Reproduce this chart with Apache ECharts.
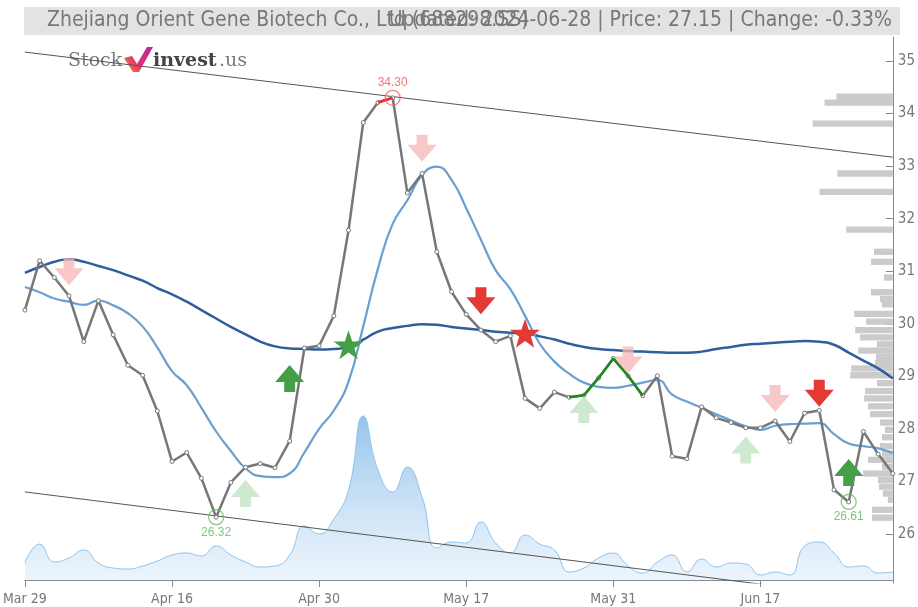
<!DOCTYPE html>
<html><head><meta charset="utf-8">
<script src="https://cdn.jsdelivr.net/npm/echarts@6/dist/echarts.min.js"></script>
<style>html,body{margin:0;padding:0;background:#fff}#c{width:918px;height:607px}</style>
</head><body><div id="c"></div>
<script>
// ---- data ----
const dates = ['2024-03-29','2024-04-01','2024-04-02','2024-04-03','2024-04-08','2024-04-09','2024-04-10','2024-04-11','2024-04-12','2024-04-15',
'2024-04-16','2024-04-17','2024-04-18','2024-04-19','2024-04-22','2024-04-23','2024-04-24','2024-04-25','2024-04-26','2024-04-29',
'2024-04-30','2024-05-06','2024-05-07','2024-05-08','2024-05-09','2024-05-10','2024-05-13','2024-05-14','2024-05-15','2024-05-16',
'2024-05-17','2024-05-20','2024-05-21','2024-05-22','2024-05-23','2024-05-24','2024-05-27','2024-05-28','2024-05-29','2024-05-30',
'2024-05-31','2024-06-03','2024-06-04','2024-06-05','2024-06-06','2024-06-07','2024-06-11','2024-06-12','2024-06-13','2024-06-14',
'2024-06-17','2024-06-18','2024-06-19','2024-06-20','2024-06-21','2024-06-24','2024-06-25','2024-06-26','2024-06-27','2024-06-28'];
const closePrice = [30.26,31.20,30.88,30.53,29.66,30.44,29.79,29.21,29.02,28.34,
27.38,27.55,27.06,26.32,26.98,27.27,27.34,27.26,27.77,29.54,
29.58,30.15,31.78,33.83,34.21,34.30,32.49,32.86,31.37,30.61,
30.18,29.88,29.66,29.77,28.58,28.39,28.70,28.60,28.64,28.97,
29.34,29.01,28.63,29.01,27.48,27.43,28.42,28.21,28.12,28.02,
28.02,28.15,27.76,28.30,28.35,26.84,26.61,27.95,27.52,27.15];
const maShort = [30.70,30.60,30.48,30.42,30.36,30.44,30.35,30.20,29.95,29.55,
29.10,28.83,28.40,27.95,27.58,27.25,27.10,27.08,27.15,27.55,
28.00,28.35,28.90,29.95,31.05,31.90,32.35,32.83,32.99,32.74,
32.20,31.60,31.02,30.66,30.15,29.62,29.28,29.05,28.88,28.80,
28.78,28.82,28.88,28.93,28.65,28.52,28.40,28.28,28.16,28.05,
27.98,28.06,28.09,28.10,28.11,27.90,27.72,27.67,27.63,27.54];
const maLong = [30.97,31.08,31.18,31.23,31.18,31.10,31.02,30.92,30.82,30.68,
30.56,30.42,30.26,30.10,29.94,29.80,29.66,29.57,29.53,29.52,
29.51,29.52,29.56,29.70,29.85,29.92,29.96,29.99,29.98,29.94,
29.91,29.88,29.85,29.83,29.82,29.76,29.70,29.62,29.56,29.52,
29.50,29.48,29.47,29.46,29.45,29.45,29.47,29.52,29.56,29.60,
29.62,29.64,29.66,29.67,29.66,29.60,29.45,29.30,29.15,28.96];
const volume = [17,36,18,22,30,17,12,11,14,19,
25,27,24,34,25,18,13,14,25,54,
46,61,90,164,110,88,113,83,32,38,
37,58,37,27,45,36,30,8,12,22,
27,14,7,18,25,8,21,13,17,16,
5,8,5,34,38,27,13,14,7,8];
// volume profile (price level, relative width)
const profilePrice = [34.32,34.21,33.81,32.86,32.51,31.79,31.37,31.18,30.88,30.60,30.47,30.37,30.19,30.04,29.88,29.74,29.61,29.49,29.37,29.26,29.15,29.02,28.87,28.72,28.58,28.43,28.28,28.12,27.98,27.84,27.67,27.53,27.41,27.28,27.15,27.03,26.90,26.77,26.65,26.46,26.31];
const profileWidth = [57,69,81,56,74,47,19,22,9,22,13,11,39,27,38,33,16,35,17,18,42,43,16,28,29,25,23,13,8,11,13,11,25,11,30,15,14,10,5,21,21];
// trend channel endpoints [index, price]
const upperTrend = [[0,35.17],[59,33.17]];
const lowerTrend = [[0,26.80],[59,24.73]];
// signals [index, price]
const weakSell = [[3,30.99],[27,33.34],[41,29.31],[51,28.58]];
const strongSell = [[31,30.44],[54,28.68]];
const weakBuy = [[15,26.77],[38,28.37],[49,27.60]];
const strongBuy = [[18,28.96],[56,27.17]];
const buyStar = [[22,29.60]];
const sellStar = [[34,29.82]];
const highMark = [[25,34.30]];
const lowMarks = [[13,26.32],[56,26.61]];
const greenSegment = [37,42];
const redSegment = [24,25];
const yTicks = [26,27,28,29,30,31,32,33,34,35];
const xLabelEvery = 10;
const titleText = 'Zhejiang Orient Gene Biotech Co., Ltd (688298.SS)';
const infoText = 'Updated: 2024-06-28 | Price: 27.15 | Change: -0.33%';

// ---- chart ----
const MON = ['Jan','Feb','Mar','Apr','May','Jun','Jul','Aug','Sep','Oct','Nov','Dec'];
const fmtDate = d => { const p = d.split('-'); return MON[+p[1]-1] + ' ' + (+p[2]); };
const NARROW = "'Liberation Sans Narrow','DejaVu Sans Condensed','Roboto Condensed',sans-serif";
const upPath = 'path://M14.5,0 L29,17 L20,17 L20,27 L9,27 L9,17 L0,17 Z';
const downPath = 'path://M9,0 L20,0 L20,10 L29,10 L14.5,27 L0,10 L9,10 Z';
const starPath = 'path://M50,0 L61.8,35.3 L98,35.3 L68.8,57 L79.4,92 L50,70.5 L20.6,92 L31.2,57 L2,35.3 L38.2,35.3 Z';

function segment(range) {
  return closePrice.map((v, i) => (i >= range[0] && i <= range[1]) ? v : null);
}
function trend(pts) {
  const arr = closePrice.map(() => null);
  pts.forEach(p => { arr[p[0]] = p[1]; });
  return arr;
}
function marker(data, path, color, size, z) {
  return { type: 'scatter', data: data, symbol: path, symbolSize: size, symbolKeepAspect: false,
    itemStyle: { color: color, opacity: 1 }, z: z, silent: true, animation: false };
}

const chart = echarts.init(document.getElementById('c'), null, { renderer: 'canvas' });
chart.setOption({
  animation: false,
  backgroundColor: '#fff',
  grid: { left: 22, right: 20, top: 37, bottom: 24, containLabel: false },
  xAxis: [{
    type: 'category', data: dates, boundaryGap: false,
    axisLine: { lineStyle: { color: '#888', width: 1 } },
    axisTick: { interval: (i) => i % xLabelEvery === 0, length: 7, lineStyle: { color: '#888' } },
    axisLabel: { interval: (i) => i % xLabelEvery === 0, formatter: fmtDate, color: '#777', fontSize: 14, fontFamily: NARROW, margin: 9 },
    splitLine: { show: false }
  }, {
    type: 'value', position: 'top', show: false, min: 0, max: 876, inverse: true
  }],
  yAxis: [{
    type: 'value', position: 'right', min: 25.067, max: 35.457, scale: true,
    axisLine: { show: true, lineStyle: { color: '#888' } },
    axisTick: { show: true, inside: true, length: 7, customValues: yTicks, lineStyle: { color: '#888' } },
    axisLabel: { customValues: yTicks, color: '#777', fontSize: 15, fontFamily: NARROW, margin: 5 },
    splitLine: { show: false }
  }, {
    type: 'value', show: false, min: -3, max: 543
  }],
  graphic: [
    { type: 'rect', shape: { x: 24, y: 7, width: 876, height: 28 }, style: { fill: '#e3e3e3' }, z: 0 },
    { type: 'text', x: 47, y: 21, style: { text: titleText, fill: '#777', font: '21px ' + NARROW, textVerticalAlign: 'middle', textAlign: 'left' }, z: 1 },
    { type: 'text', x: 892, y: 21, style: { text: infoText, fill: '#777', font: '21px ' + NARROW, textVerticalAlign: 'middle', textAlign: 'right' }, z: 1 },
    { type: 'text', x: 68, y: 61, style: { text: 'Stock', fill: '#7a7a7a', font: '19px "DejaVu Serif", serif', textVerticalAlign: 'middle' }, z: 1 },
    { type: 'polygon', shape: { points: [[124,58],[132,56],[137,64],[147,47],[153,47],[139,72],[133,72]] },
      style: { fill: new echarts.graphic.LinearGradient(0, 1, 1, 0, [{ offset: 0, color: '#f28c1e' }, { offset: 0.45, color: '#e0307a' }, { offset: 1, color: '#b0289a' }]) }, z: 1 },
    { type: 'text', x: 153, y: 61, style: { text: 'invest', fill: '#444', font: 'bold 19px "DejaVu Serif", serif', textVerticalAlign: 'middle' }, z: 1 },
    { type: 'text', x: 219, y: 61, style: { text: '.us', fill: '#7a7a7a', font: '19px "DejaVu Serif", serif', textVerticalAlign: 'middle' }, z: 1 }
  ],
  series: [
    { // volume area
      type: 'line', data: volume, yAxisIndex: 1, smooth: 0.5, symbol: 'none', z: 1,
      lineStyle: { color: '#8fc3ec', width: 1 },
      areaStyle: { color: new echarts.graphic.LinearGradient(0, 0, 0, 1, [{ offset: 0, color: 'rgba(95,165,228,0.95)' }, { offset: 1, color: 'rgba(210,230,248,0.6)' }]) }
    },
    { // volume profile
      type: 'custom', xAxisIndex: 1, yAxisIndex: 0, z: 2, silent: true,
      data: profilePrice.map((p, i) => [profileWidth[i], p]),
      encode: { x: 0, y: 1 },
      renderItem: function (params, api) {
        const w = api.value(0), p = api.value(1);
        const a = api.coord([0, p + 0.06]);
        const b = api.coord([w, p - 0.06]);
        return { type: 'rect', shape: { x: Math.min(a[0], b[0]), y: a[1], width: Math.abs(a[0] - b[0]), height: b[1] - a[1] }, style: { fill: '#cbcbcb' } };
      }
    },
    { type: 'line', data: trend(upperTrend), connectNulls: true, symbol: 'none', z: 3, lineStyle: { color: '#555', width: 1 } },
    { type: 'line', data: trend(lowerTrend), connectNulls: true, symbol: 'none', z: 3, lineStyle: { color: '#555', width: 1 } },
    { type: 'line', data: maLong, smooth: true, symbol: 'none', z: 4, lineStyle: { color: '#2e5f9c', width: 2.5 } },
    { type: 'line', data: maShort, smooth: true, symbol: 'none', z: 4, lineStyle: { color: '#6a9fd2', width: 2.2 } },
    { type: 'line', data: closePrice, symbol: 'circle', symbolSize: 4, z: 5,
      itemStyle: { color: '#fff', borderColor: '#777', borderWidth: 1 },
      lineStyle: { color: '#777', width: 2.5 } },
    { type: 'line', data: segment(greenSegment), symbol: 'none', z: 6, lineStyle: { color: '#1c8a1c', width: 2.5 } },
    { type: 'line', data: segment(redSegment), symbol: 'none', z: 6, lineStyle: { color: '#f03030', width: 2.5 } },
    marker(weakSell, downPath, 'rgba(245,180,180,0.75)', [29, 27], 7),
    marker(strongSell, downPath, '#e53935', [29, 27], 8),
    marker(weakBuy, upPath, 'rgba(190,225,190,0.75)', [29, 27], 7),
    marker(strongBuy, upPath, '#43a047', [29, 27], 8),
    marker(buyStar, starPath, '#43a047', [30, 29], 8),
    marker(sellStar, starPath, '#e53935', [30, 29], 8),
    { type: 'scatter', data: highMark, symbol: 'circle', symbolSize: 15, z: 9,
      itemStyle: { color: 'rgba(0,0,0,0)', borderColor: '#f06060', borderWidth: 1.2 },
      label: { show: true, position: 'top', distance: 1, formatter: p => p.value[1].toFixed(2), color: '#f05050', fontSize: 12 } },
    { type: 'scatter', data: lowMarks, symbol: 'circle', symbolSize: 15, z: 9,
      itemStyle: { color: 'rgba(0,0,0,0)', borderColor: '#5cb85c', borderWidth: 1.2 },
      label: { show: true, position: 'bottom', distance: 1, formatter: p => p.value[1].toFixed(2), color: '#5cb85c', fontSize: 12 } }
  ]
});
</script></body></html>
